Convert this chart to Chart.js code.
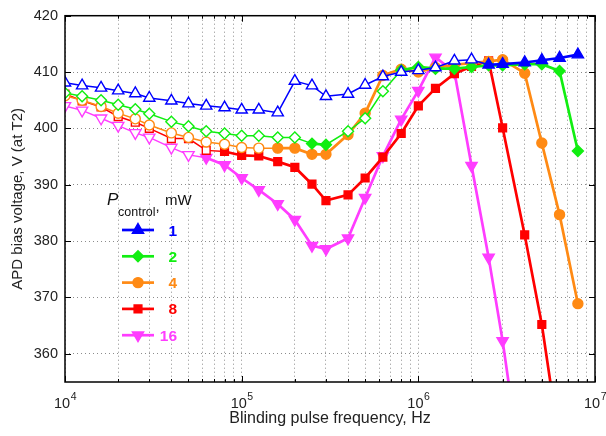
<!DOCTYPE html>
<html>
<head>
<meta charset="utf-8">
<script src="https://cdn.jsdelivr.net/npm/chart.js@4/dist/chart.umd.min.js"></script>
<style>
  html, body { margin: 0; padding: 0; background: #fff; }
  #caja { width: 606px; height: 436px; }
</style>
</head>
<body>
<div id="caja"><canvas id="grafica" width="606" height="436"></canvas></div>
<script>
// frecuencias del pulso (Hz)
const frecuencias = [1e4, 1.25e4, 1.6e4, 2e4, 2.5e4, 3e4, 4e4, 5e4, 6.3e4, 8e4,
  1e5, 1.25e5, 1.6e5, 2e5, 2.5e5, 3e5, 4e5, 5e5, 6.3e5, 8e5,
  1e6, 1.25e6, 1.6e6, 2e6, 2.5e6, 3e6, 4e6, 5e6, 6.3e6, 8e6];

// tension APD (V) para cada potencia de control
const v1mW = [408.1, 407.6, 407.2, 406.7, 406.2, 405.4, 404.9, 404.4, 404.0, 403.7,
  403.3, 403.3, 402.8, 408.4, 407.6, 405.7, 406.1, 407.7, 409.2, 410.0,
  410.3, 410.8, 412.0, 412.2, 411.3, 411.4, 411.7, 412.1, 412.5, 413.1];
const v2mW = [406.3, 405.7, 405.0, 404.2, 403.4, 402.6, 401.2, 400.4, 399.5, 399.1,
  398.7, 398.7, 398.4, 398.4, 397.3, 397.1, 399.5, 401.8, 406.6, 410.3,
  410.9, 410.6, 410.6, 410.9, 411.2, 411.2, 411.4, 411.4, 410.2, 396.0];
const v4mW = [405.8, 405.0, 403.9, 402.7, 401.7, 400.6, 399.2, 398.4, 397.6, 397.2,
  396.6, 396.5, 396.5, 396.5, 395.4, 395.4, 398.9, 402.7, 409.4, 410.5,
  410.0, 410.8, 411.3, 411.6, 411.9, 412.2, 409.8, 397.4, 384.7, 368.9];
const v8mW = [406.1, 404.9, 403.8, 402.1, 401.1, 400.0, 398.2, 398.2, 396.1, 395.9,
  395.2, 395.1, 394.1, 393.1, 390.1, 387.2, 388.2, 391.2, 394.9, 399.1,
  404.0, 407.1, 409.7, 411.0, 412.0, 400.1, 381.1, 365.2, 344.0, null];
const v16mW = [404.0, 403.2, 401.8, 400.5, 399.2, 398.4, 396.6, 395.3, 394.8, 393.5,
  391.2, 389.1, 386.6, 383.8, 379.2, 378.6, 380.5, 387.7, 395.1, 401.6,
  406.7, 412.6, 410.0, 393.4, 377.1, 362.3, 335.0, null, null, null];

// marcador relleno (1) o hueco (0)
const lleno1mW = [0,0,0,0,0,0,0,0,0,0, 0,0,0,0,0,0,0,0,0,0, 0,0,0,0,1,1,1,1,1,1];
const lleno2mW = [0,0,0,0,0,0,0,0,0,0, 0,0,0,0,1,1,0,0,0,1, 1,1,1,1,1,1,1,1,1,1];
const lleno4mW = [0,0,0,0,0,0,0,0,0,0, 0,0,1,1,1,1,1,1,1,1, 1,1,1,1,1,1,1,1,1,1];
const lleno8mW = [0,0,0,0,0,0,0,0,0,1, 1,1,1,1,1,1,1,1,1,1, 1,1,1,1,1,1,1,1,1,1];
const lleno16mW = [0,0,0,0,0,0,0,0,1,1, 1,1,1,1,1,1,1,1,1,1, 1,1,1,1,1,1,1,1,1,1];

const potencias = ['1', '2', '4', '8', '16'];
const yTicks = [360, 370, 380, 390, 400, 410, 420];
const xExponentes = [4, 5, 6, 7];

const estilos = [
  { color: '#0000ff', forma: 'triangle', radio: 6.5, giro: 0 },
  { color: '#11ee11', forma: 'rectRot', radio: 5.5, giro: 0 },
  { color: '#ff8a14', forma: 'circle', radio: 5, giro: 0 },
  { color: '#ff0000', forma: 'rect', radio: 5.5, giro: 0 },
  { color: '#ff3dff', forma: 'triangle', radio: 6.5, giro: 180 }
];
const series = [v1mW, v2mW, v4mW, v8mW, v16mW];
const llenos = [lleno1mW, lleno2mW, lleno4mW, lleno8mW, lleno16mW];
const fuente = '"Liberation Sans", Arial, sans-serif';

const datasets = series.map((vals, i) => {
  const e = estilos[i];
  const puntos = [], relleno = [];
  vals.forEach((v, k) => {
    if (v === null) return;
    puntos.push({ x: frecuencias[k], y: v });
    relleno.push(llenos[i][k]);
  });
  return {
    label: potencias[i] + ' mW',
    data: puntos,
    borderColor: e.color,
    pointStyle: e.forma,
    pointRadius: e.radio,
    pointRotation: e.giro,
    pointBorderColor: e.color,
    pointBorderWidth: 1.4,
    pointBackgroundColor: relleno.map(r => r ? e.color : '#ffffff'),
    borderWidth: 1.5,
    segment: {
      borderWidth: c => (relleno[c.p0DataIndex] && relleno[c.p1DataIndex]) ? 2.7 : 1.5
    },
    tension: 0
  };
});

const marco = {
  id: 'marco',
  afterDraw(chart) {
    const { ctx, chartArea: a, scales: { x, y } } = chart;
    ctx.save();
    // marcas interiores
    ctx.strokeStyle = '#000';
    ctx.lineWidth = 1;
    ctx.beginPath();
    x.ticks.forEach(t => {
      const px = Math.round(x.getPixelForValue(t.value)) + 0.5;
      const lg = Math.log10(t.value);
      const len = Math.abs(lg - Math.round(lg)) < 1e-9 ? 6 : 3;
      ctx.moveTo(px, a.bottom); ctx.lineTo(px, a.bottom - len);
      ctx.moveTo(px, a.top); ctx.lineTo(px, a.top + len);
    });
    yTicks.forEach(v => {
      const py = Math.round(y.getPixelForValue(v)) + 0.5;
      ctx.moveTo(a.left, py); ctx.lineTo(a.left + 6, py);
      ctx.moveTo(a.right, py); ctx.lineTo(a.right - 6, py);
    });
    ctx.stroke();
    ctx.lineWidth = 1.5;
    ctx.strokeRect(a.left, a.top, a.right - a.left, a.bottom - a.top);

    // etiquetas 10^n
    ctx.fillStyle = '#222';
    ctx.textBaseline = 'alphabetic';
    xExponentes.forEach(n => {
      const px = x.getPixelForValue(Math.pow(10, n));
      ctx.font = '14.5px ' + fuente;
      const w1 = ctx.measureText('10').width;
      ctx.font = '10.5px ' + fuente;
      const w2 = ctx.measureText(String(n)).width;
      const x0 = px - (w1 + w2) / 2;
      ctx.font = '14.5px ' + fuente;
      ctx.textAlign = 'left';
      ctx.fillText('10', x0, a.bottom + 26);
      ctx.font = '10.5px ' + fuente;
      ctx.fillText(String(n), x0 + w1 + 0.5, a.bottom + 18);
    });

    // leyenda
    ctx.fillStyle = '#111';
    ctx.textAlign = 'left';
    ctx.font = 'italic 17px ' + fuente;
    ctx.fillText('P', 107, 205);
    ctx.font = '12.5px ' + fuente;
    ctx.fillText('control', 118, 216);
    const wc = ctx.measureText('control').width;
    ctx.font = '15px ' + fuente;
    ctx.fillText(',', 118 + wc, 211);
    ctx.fillText('mW', 165, 205);
    potencias.forEach((p, i) => {
      const e = estilos[i];
      const yy = 230 + i * 26.3;
      ctx.strokeStyle = e.color;
      ctx.fillStyle = e.color;
      ctx.lineWidth = 2.7;
      ctx.beginPath();
      ctx.moveTo(122, yy); ctx.lineTo(154, yy);
      ctx.stroke();
      ctx.lineWidth = 1.4;
      Chart.helpers.drawPoint(ctx, { pointStyle: e.forma, radius: e.radio, rotation: e.giro, borderWidth: 1.4 }, 138, yy);
      ctx.font = 'bold 15.5px ' + fuente;
      ctx.textAlign = 'right';
      ctx.fillText(p, 177, yy + 5.5);
      ctx.textAlign = 'left';
    });
    ctx.restore();
  }
};

const rejilla = { color: '#8c8c8c', lineWidth: 1, drawTicks: false };
const borde = { display: false, dash: [1, 3] };

new Chart(document.getElementById('grafica'), {
  type: 'line',
  data: { datasets: datasets },
  options: {
    responsive: false,
    animation: false,
    layout: { padding: { top: 11, right: 11, left: 0, bottom: 0 } },
    plugins: { legend: { display: false }, tooltip: { enabled: false } },
    scales: {
      x: {
        type: 'logarithmic',
        min: 1e4, max: 1e7,
        afterBuildTicks: s => {
          const t = [];
          for (let n = 4; n < 7; n++) for (let m = 1; m < 10; m++) t.push({ value: m * Math.pow(10, n) });
          t.push({ value: 1e7 });
          s.ticks = t;
        },
        afterFit: s => { s.height = 54; },
        ticks: { display: false },
        grid: rejilla,
        border: borde,
        title: {
          display: true, text: 'Blinding pulse frequency, Hz', color: '#222',
          font: { size: 16, family: fuente }, padding: { top: 0, bottom: 8 }
        }
      },
      y: {
        min: 355, max: 420,
        afterBuildTicks: s => { s.ticks = yTicks.map(v => ({ value: v })); },
        afterFit: s => { s.width = 65; },
        ticks: { color: '#222', padding: 7, font: { size: 14.5, family: fuente } },
        grid: rejilla,
        border: borde,
        title: {
          display: true, text: 'APD bias voltage, V (at T2)', color: '#222',
          font: { size: 15, family: fuente }, padding: { top: 9, bottom: 0 }
        }
      }
    }
  },
  plugins: [marco]
});
</script>
</body>
</html>
